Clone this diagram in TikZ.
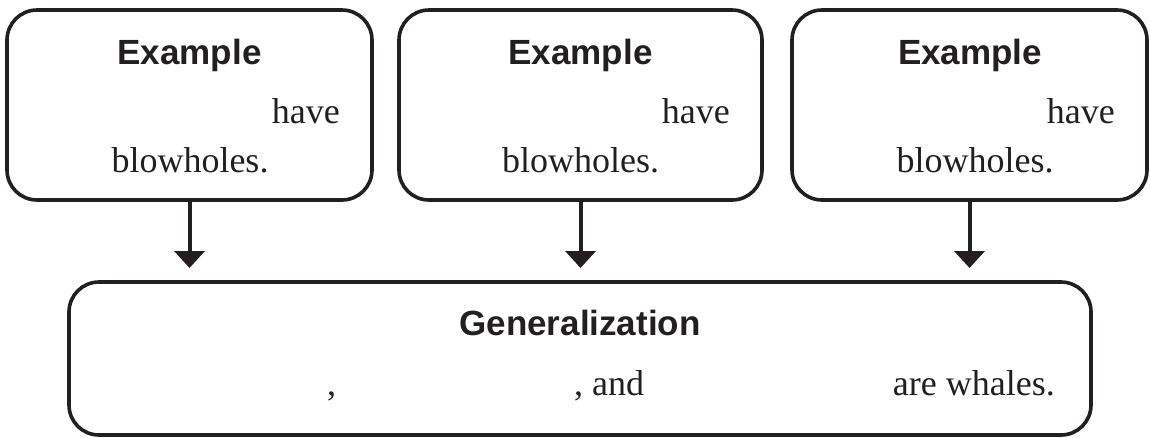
\documentclass[tikz,border=0pt]{standalone}
\usepackage{fontspec}
\setmainfont{Liberation Serif}
\newfontfamily\headfont{Liberation Sans}
\usetikzlibrary{arrows.meta}
\definecolor{ink}{HTML}{231F20}
\begin{document}
\begin{tikzpicture}[x=1pt,y=-1pt,
  card/.style={draw=ink, line width=3.6pt, rounded corners=30pt, rectangle, inner sep=0pt, outer sep=0pt},
  head/.style={inner sep=0pt, anchor=base, text=ink, font=\headfont\bfseries\fontsize{35}{42}\selectfont},
  body/.style={inner sep=0pt, text=ink, font=\fontsize{36}{44}\selectfont},
  flow/.style={draw=ink, line width=4pt, -{Triangle[width=30pt,length=17pt]}, shorten >=14pt}]
\useasboundingbox (0,0) rectangle (1150,437);

% top boxes
\node[card, minimum width=365pt, minimum height=190pt] (b1) at (189.5,105) {};
\node[card, minimum width=363pt, minimum height=190pt] (b2) at (580.5,105) {};
\node[card, minimum width=355pt, minimum height=190pt] (b3) at (969.5,105) {};

% bottom box
\node[card, minimum width=1022pt, minimum height=153pt] (g) at (580,358.5) {};

% texts in top boxes
\node[head] (e1) at (189.5,64) {Example};
\node[body, anchor=base east] (h1) at (340,123) {have};
\node[body, anchor=base] (w1) at (190,172) {blowholes.};

\node[head] (e2) at (580.5,64) {Example};
\node[body, anchor=base east] (h2) at (730,123) {have};
\node[body, anchor=base] (w2) at (580.5,172) {blowholes.};

\node[head] (e3) at (970,64) {Example};
\node[body, anchor=base east] (h3) at (1115,123) {have};
\node[body, anchor=base] (w3) at (975,172) {blowholes.};

% texts in bottom box
\node[head] (gt) at (580,335) {Generalization};
\node[body, anchor=base west] (c1) at (327,395) {,};
\node[body, anchor=base west] (c2) at (574,395) {, and};
\node[body, anchor=base east] (c3) at (1055,395) {are whales.};

% arrows
\draw[flow] (b1.south) -- (b1.south |- g.north);
\draw[flow] (b2.south) -- (b2.south |- g.north);
\draw[flow] (b3.south) -- (b3.south |- g.north);
\end{tikzpicture}
\end{document}
